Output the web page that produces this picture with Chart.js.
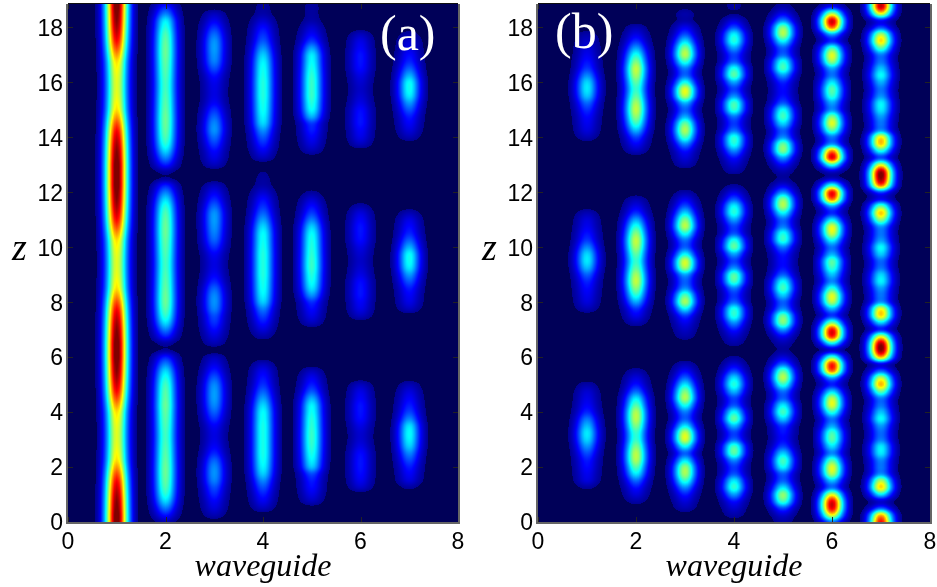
<!DOCTYPE html>
<html>
<head>
<meta charset="utf-8">
<script src="https://cdn.jsdelivr.net/npm/chart.js@4"></script>
<style>
html, body { margin: 0; padding: 0; background: #fff; overflow: hidden; }
canvas { position: absolute; top: 0; }
</style>
</head>
<body>
<canvas id="chartA" width="468" height="587" style="left:0"></canvas>
<canvas id="chartB" width="469" height="587" style="left:468px"></canvas>
<script>
// peak level (percent of colour range) along each waveguide, one value every 0.25 in z
var a1 = [104,104,102,100,97,93,88,81,73,66,63,61,60,60,61,63,66,73,81,88,93,97,100,102,104,104,
          104,102,100,97,93,88,81,73,66,63,61,60,60,61,63,66,73,81,88,93,97,100,102,104,104,
          104,104,102,100,97,93,88,81,73,66,63,61,60,60,61,63,66,73,81,88,93,97,100,102,104,104];
var a2 = [5,14,24,34,41,45,47,48,48,47,46,45,44,44,45,46,47,48,47,46,44,40,34,25,15,3,
          4,15,25,35,42,46,48,48,47,46,45,44,44,45,46,47,48,48,47,45,41,34,25,15,3,
          4,15,25,34,41,45,47,48,48,47,46,45,44,44,45,46,47,48,48,47,45,41,36,25,15,4];
var a3 = [0,5,9,12,16,20,25,27,26,22,16,12,10,10,12,17,22,26,28,28,26,21,15,10,6,0,
          5,9,13,17,20,25,27,26,22,16,12,10,10,12,17,22,25,27,28,27,22,16,11,6,0,
          0,6,10,13,18,23,27,26,22,17,12,10,10,11,14,20,25,27,28,27,23,17,11,6,0,0];
var a4 = [0,0,6,11,15,20,26,33,37,39,40,40,40,40,40,39,38,34,28,22,17,14,11,6,0,0,
          0,4,9,14,19,25,33,37,39,40,41,41,41,41,40,39,38,34,28,22,17,13,8,4,3,
          2,0,6,11,16,21,27,34,37,39,40,41,41,41,40,39,37,33,27,21,17,13,8,4,3,2];
var a5 = [0,0,0,6,10,13,15,20,32,37,40,42,43,43,42,41,39,37,30,21,15,11,6,0,0,0,
          0,0,0,6,10,13,17,27,35,39,41,43,43,42,41,40,38,33,25,18,13,8,3,0,0,
          0,0,0,5,9,12,15,18,30,38,41,43,43,43,42,40,38,36,28,18,12,8,4,3,3,2];
var a6 = [0,0,0,0,0,7,11,13,14,14,13,10,8,8,10,13,14,14,12,10,6,0,0,0,0,0,
          0,0,0,0,6,10,12,14,14,13,10,8,7,8,10,13,14,14,12,9,4,0,0,0,0,
          0,0,0,0,6,10,12,14,14,13,10,8,7,8,10,13,14,14,12,10,6,0,0,0,0,0];
var a7 = [0,0,0,0,0,3,9,12,15,20,26,33,37,38,35,26,19,15,12,9,5,0,0,0,0,0,
          0,0,0,0,0,6,10,12,15,21,28,36,39,38,30,22,16,13,10,5,0,0,0,0,0,
          0,0,0,0,0,5,9,12,15,21,28,36,39,38,30,22,16,13,10,8,4,0,0,0,0,0];

var b1 = [0,0,0,0,0,3,9,11,13,15,20,27,34,36,31,24,16,12,10,8,4,0,0,0,0,0,
          0,0,0,0,0,5,9,11,13,16,22,31,36,34,26,18,14,11,9,5,0,0,0,0,0,
          0,0,0,0,0,5,9,11,13,17,23,32,36,34,26,18,14,11,9,7,4,0,0,0,0,0];
var b2 = [0,0,0,4,9,14,23,36,46,55,56,50,43,43,50,56,55,46,36,23,14,9,4,0,0,0,
          0,0,0,5,11,17,29,41,51,57,54,47,43,47,54,57,51,41,29,17,10,5,0,0,0,
          0,0,0,6,12,19,31,43,52,57,54,47,43,47,54,57,50,40,28,17,10,5,0,0,0,0];
var b3 = [0,0,5,9,15,26,42,54,52,35,22,38,59,57,36,22,25,40,55,50,36,22,12,5,0,0,
          0,4,7,11,18,36,54,46,27,22,29,54,58,38,22,24,40,56,50,34,20,11,4,0,0,
          0,5,9,14,26,44,55,48,30,22,31,56,60,40,23,25,42,56,50,34,20,11,4,4,1,0];
var b4 = [0,4,8,14,28,42,36,21,18,27,46,44,23,19,31,47,38,21,19,31,41,34,19,9,3,0,
          4,8,15,27,41,40,23,18,25,44,46,27,19,29,47,40,21,19,29,41,37,21,10,3,0,
          4,8,14,26,40,41,24,18,24,42,44,27,19,29,46,40,22,19,29,41,37,20,9,2,3,3];
var b5 = [4,8,20,44,52,36,22,22,38,44,33,19,13,14,18,33,44,36,22,24,42,56,46,22,9,3,
          5,12,28,50,48,27,22,33,44,38,22,14,13,15,25,42,40,25,23,38,55,50,26,10,3,
          5,13,28,50,48,27,22,34,44,38,21,14,13,16,28,44,40,23,22,38,55,50,26,11,4,3];
var b6 = [24,62,90,90,60,24,32,55,60,45,26,35,46,44,29,24,42,60,56,34,15,30,78,85,45,8,
          38,85,88,50,18,30,55,60,42,26,32,43,46,30,24,38,58,60,36,16,30,78,88,42,7,
          8,42,90,75,28,24,46,60,50,27,29,42,46,36,24,29,52,60,44,16,30,78,92,55,14,5];
var b7 = [88,70,22,8,36,66,55,27,24,26,36,36,25,23,28,38,32,24,25,48,70,56,22,12,70,100,
          96,60,16,34,66,62,28,24,28,37,34,24,23,33,38,28,24,28,52,68,46,12,20,78,100,
          98,60,20,40,68,64,28,24,28,36,37,27,24,30,38,32,24,25,46,66,54,20,14,62,94,84];

// beam level across a waveguide, read every 0.05 out from its centre
var crossSection = [1, .95, .81, .62, .44, .29, .18, .09, .04, .015, 0];
var crossStep = 0.05;
var cutoff = 0.02;   // below this the picture drops to the background colour

var zStep = 0.25;
var xTicks = [0, 2, 4, 6, 8];
var zTicks = [0, 2, 4, 6, 8, 10, 12, 14, 16, 18];
var zMax = 18.85;

function jet(v) {
    if (v > 1) v = 1;
    var r = 0, g = 0, b = 0;
    if (v < .125) { b = .5 + 4 * v; }
    else if (v < .375) { g = 4 * (v - .125); b = 1; }
    else if (v < .625) { r = 4 * (v - .375); g = 1; b = 1 - r; }
    else if (v < .875) { r = 1; g = 1 - 4 * (v - .625); }
    else { r = 1 - 4 * (v - .875); }
    return [r * 255, g * 255, b * 255];
}

// shading between rows, like MATLAB's shading interp but rounded
function levelAt(data, z) {
    var n = data.length - 1;
    var f = z / zStep, i = Math.min(Math.floor(f), n);
    var t = f - i;
    var p0 = data[Math.max(i - 1, 0)].v, p1 = data[i].v;
    var p2 = data[Math.min(i + 1, n)].v, p3 = data[Math.min(i + 2, n)].v;
    return p1 + .5 * t * (p2 - p0 + t * (2 * p0 - 5 * p1 + 4 * p2 - p3 + t * (3 * (p1 - p2) + p3 - p0)));
}

function crossAt(d) {
    var f = d / crossStep, i = Math.floor(f);
    if (i >= crossSection.length - 1) return 0;
    return crossSection[i] + (crossSection[i + 1] - crossSection[i]) * (f - i);
}

var heatPlugin = {
    id: "heat",
    beforeDatasetsDraw: function (chart) {
        var area = chart.chartArea, ctx = chart.ctx;
        var sx = chart.scales.x, sy = chart.scales.y;
        var left = Math.round(area.left), top = Math.round(area.top);
        var w = Math.round(area.right) - left, h = Math.round(area.bottom) - top;
        var img = ctx.createImageData(w, h);
        var sets = chart.data.datasets;
        for (var py = 0; py < h; py++) {
            var z = sy.getValueForPixel(top + py + .5);
            var row = [];
            for (var s = 0; s < sets.length; s++) row.push(levelAt(sets[s].data, z) / 100);
            for (var px = 0; px < w; px++) {
                var x = sx.getValueForPixel(left + px + .5);
                var k = Math.round(x);
                var v = (k >= 1 && k <= sets.length) ? row[k - 1] * crossAt(Math.abs(x - k)) : 0;
                var c = v > cutoff ? jet(v) : [0, 0, 88];
                var o = (py * w + px) * 4;
                img.data[o] = c[0]; img.data[o + 1] = c[1]; img.data[o + 2] = c[2]; img.data[o + 3] = 255;
            }
        }
        ctx.putImageData(img, left, top);
    },
    afterDatasetsDraw: function (chart, args, opts) {
        var area = chart.chartArea, ctx = chart.ctx;
        var sx = chart.scales.x, sy = chart.scales.y;
        ctx.save();
        // inward ticks on all four sides
        ctx.strokeStyle = "#222";
        ctx.lineWidth = 1;
        ctx.beginPath();
        xTicks.forEach(function (t) {
            var p = Math.round(sx.getPixelForValue(t)) + .5;
            ctx.moveTo(p, area.bottom); ctx.lineTo(p, area.bottom - 5);
            ctx.moveTo(p, area.top); ctx.lineTo(p, area.top + 5);
        });
        zTicks.forEach(function (t) {
            var p = Math.round(sy.getPixelForValue(t)) + .5;
            ctx.moveTo(area.left, p); ctx.lineTo(area.left + 5, p);
            ctx.moveTo(area.right, p); ctx.lineTo(area.right - 5, p);
        });
        ctx.stroke();
        // frame
        ctx.strokeStyle = "#111";
        ctx.beginPath();
        ctx.moveTo(area.left, area.top - .5); ctx.lineTo(area.right, area.top - .5);
        ctx.stroke();
        ctx.strokeStyle = "#666";
        ctx.lineWidth = 2;
        ctx.beginPath();
        ctx.moveTo(area.left - 1, area.top); ctx.lineTo(area.left - 1, area.bottom + 1);
        ctx.lineTo(area.right + 1, area.bottom + 1); ctx.lineTo(area.right + 1, area.top);
        ctx.stroke();
        // panel letter and the upright z label
        ctx.fillStyle = "#fff";
        ctx.font = "50px 'Liberation Serif'";
        ctx.textBaseline = "alphabetic";
        ctx.fillText(opts.letter, opts.letterX, opts.letterY);
        ctx.fillStyle = "#000";
        ctx.font = "italic 38px 'Liberation Serif'";
        ctx.fillText("z", opts.zX, 260);
        ctx.restore();
    }
};

function makeDatasets(traces) {
    return traces.map(function (trace, n) {
        return {
            label: "waveguide " + (n + 1),
            data: trace.map(function (v, i) { return {x: n + 1, y: i * zStep, v: v}; }),
            pointRadius: 0,
            showLine: false
        };
    });
}

function makeChart(id, traces, axisWidth, rightPad, letter, letterX, letterY, zX) {
    return new Chart(id, {
        type: "scatter",
        data: {datasets: makeDatasets(traces)},
        plugins: [heatPlugin],
        options: {
            responsive: false,
            animation: false,
            layout: {padding: {top: 4, right: rightPad, left: 0, bottom: 0}},
            plugins: {
                legend: {display: false},
                tooltip: {enabled: false},
                heat: {letter: letter, letterX: letterX, letterY: letterY, zX: zX}
            },
            scales: {
                x: {
                    type: "linear", min: 0, max: 8,
                    grid: {display: false, drawTicks: false},
                    border: {display: false},
                    afterBuildTicks: function (s) { s.ticks = xTicks.map(function (v) { return {value: v}; }); },
                    afterFit: function (s) { s.height = 65; s.paddingLeft = 0; s.paddingRight = 0; },
                    ticks: {autoSkip: false, maxRotation: 0, padding: 7, color: "#000",
                             font: {family: "Liberation Sans", size: 23}},
                    title: {display: true, text: "waveguide", color: "#000", padding: {top: 0, bottom: 0},
                            font: {family: "Liberation Serif", style: "italic", size: 32}}
                },
                y: {
                    type: "linear", min: 0, max: zMax,
                    grid: {display: false, drawTicks: false},
                    border: {display: false},
                    afterBuildTicks: function (s) { s.ticks = zTicks.map(function (v) { return {value: v}; }); },
                    afterFit: function (s) { s.width = axisWidth; s.paddingTop = 0; s.paddingBottom = 0; },
                    ticks: {autoSkip: false, maxRotation: 0, padding: 5, labelOffset: 2, color: "#000",
                             font: {family: "Liberation Sans", size: 23}}
                }
            }
        }
    });
}

makeChart("chartA", [a1, a2, a3, a4, a5, a6, a7], 68, 10, "(a)", 380, 50, 12);
makeChart("chartB", [b1, b2, b3, b4, b5, b6, b7], 70, 7, "(b)", 87, 48, 14);
</script>
</body>
</html>
